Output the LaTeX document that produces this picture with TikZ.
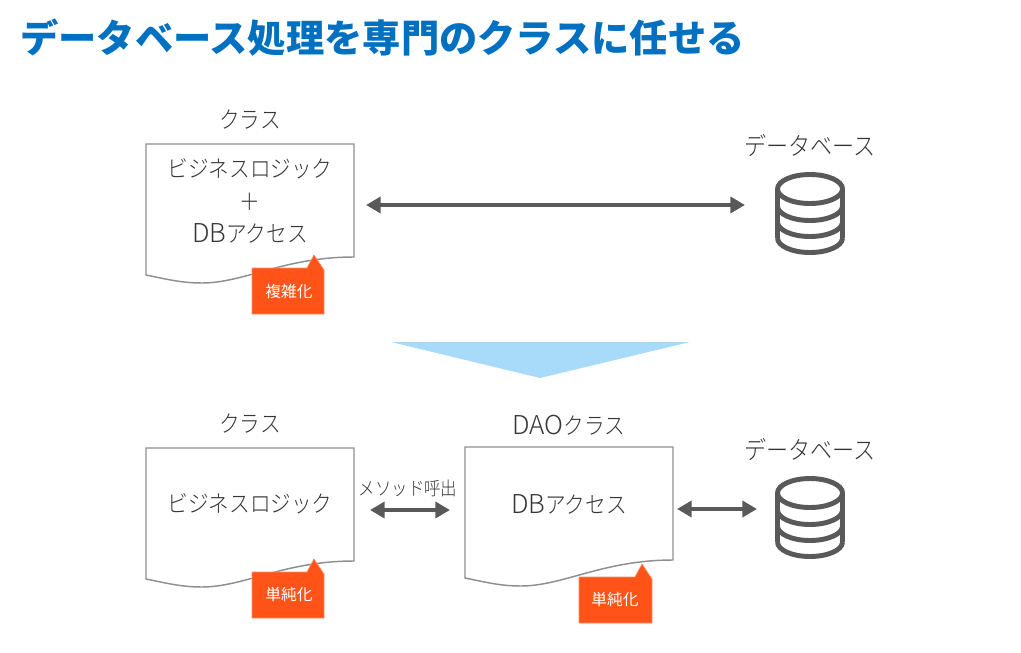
\documentclass[tikz,border=0pt]{standalone}
\usepackage{fontspec}
\setmainfont{Noto Sans CJK JP}
\newfontfamily\labelfont[FakeStretch=0.88]{Noto Sans CJK JP Light}
\newfontfamily\latinfont{Noto Sans CJK JP Light}
\newfontfamily\tagfont{Noto Sans CJK JP}
\newcommand{\lat}[1]{{\latinfont\fontsize{19.5pt}{24pt}\selectfont #1}}
\usetikzlibrary{arrows.meta}
\definecolor{titleblue}{HTML}{0070C0}
\definecolor{icongray}{HTML}{595959}
\definecolor{textgray}{HTML}{363636}
\definecolor{docgray}{HTML}{8F8F8F}
\definecolor{tagred}{HTML}{FF5317}
\definecolor{skyfill}{HTML}{A8DBFA}
\tikzset{
  x=0.75pt,y=-0.75pt,
  label text/.style={text=textgray,font=\labelfont\fontsize{17.6pt}{24.4pt}\selectfont,inner sep=0pt,align=center},
  wide label/.style={text=textgray,font=\labelfont\fontsize{18.8pt}{24pt}\selectfont,inner sep=0pt},
  small label/.style={text=textgray,font=\labelfont\fontsize{14pt}{17pt}\selectfont,inner sep=0pt},
  tag text/.style={text=white,font=\tagfont\fontsize{11.8pt}{14pt}\selectfont,inner sep=0pt},
  doc line/.style={draw=docgray,line width=1.1pt,line join=miter},
  tag fill/.style={fill=tagred,draw=tagred!65,line width=0.5pt},
  db line/.style={draw=icongray,line width=3.7pt},
  double arrow/.style={draw=icongray,line width=3.6pt,{Triangle[length=11pt,width=12pt]}-{Triangle[length=11pt,width=12pt]}},
}
\newcommand{\docshape}[3]{% left, top, right
  \draw[doc line] (#1,#2) -- (#3,#2) -- (#3,#2+113)
    .. controls (#3-70,#2+113) and (#3-110,#2+139) .. (#1+56,#2+139)
    .. controls (#1+35,#2+139) and (#1+20,#2+135) .. (#1,#2+131) -- cycle;
}
\newcommand{\tagshape}[3]{% left, top, right
  \draw[tag fill] (#1,#2) -- (#3-17,#2) -- (#3-10,#2-13) -- (#3,#2+2) -- (#3,#2+46) -- (#1,#2+46) -- cycle;
}
\newcommand{\dbicon}[2]{% cx, top
  \draw[db line] (#1,#2+17) ellipse [x radius=32.5,y radius=14.5];
  \draw[db line] (#1-32.5,#2+17) -- (#1-32.5,#2+66);
  \draw[db line] (#1+32.5,#2+17) -- (#1+32.5,#2+66);
  \draw[db line] (#1-32.5,#2+34) arc [start angle=180,end angle=360,x radius=32.5,y radius=-14.5];
  \draw[db line] (#1-32.5,#2+50) arc [start angle=180,end angle=360,x radius=32.5,y radius=-14.5];
  \draw[db line] (#1-32.5,#2+66) arc [start angle=180,end angle=360,x radius=32.5,y radius=-14.5];
}
\begin{document}
\begin{tikzpicture}
\useasboundingbox (0,0) rectangle (1021,653);
\node[anchor=west,inner sep=0pt,text=titleblue,font=\fontsize{28.7pt}{33pt}\bfseries\selectfont] (title) at (20,38) {データベース処理を専門のクラスに任せる};

% top row
\node[label text] (lab1) at (250,120) {クラス};
\docshape{146}{144}{354}
\node[label text] (body1) at (250,201) {ビジネスロジック\\＋\\\lat{DB}アクセス};
\tagshape{252}{268}{324}
\node[tag text] (tag1) at (289,291) {複雑化};
\node[wide label] (lab2) at (810,145) {データベース};
\dbicon{810}{172}
\coordinate (a1l) at (366,205);
\coordinate (a1r) at (745,205);
\draw[double arrow] (a1l) -- (a1r);

% transition
\fill[skyfill] (391,342) -- (690,342) -- (540,378) -- cycle;

% bottom row
\node[label text] (lab3) at (250,424) {クラス};
\docshape{146}{448}{354}
\node[label text] (body2) at (250,504) {ビジネスロジック};
\tagshape{252}{572}{324}
\node[tag text] (tag2) at (289,595) {単純化};

\node[label text] (lab4) at (569,425) {\lat{DAO}クラス};
\docshape{465}{447}{673}
\node[label text] (body3) at (569,504) {\lat{DB}アクセス};
\tagshape{579}{577}{652}
\node[tag text] (tag3) at (615,600) {単純化};

\node[small label] (call) at (408,488) {メソッド呼出};
\coordinate (a2l) at (370,510);
\coordinate (a2r) at (450,510);
\draw[double arrow] (a2l) -- (a2r);
\coordinate (a3l) at (677,509);
\coordinate (a3r) at (757,509);
\draw[double arrow] (a3l) -- (a3r);

\node[wide label] (lab5) at (810,449) {データベース};
\dbicon{810}{476}
\end{tikzpicture}
\end{document}
